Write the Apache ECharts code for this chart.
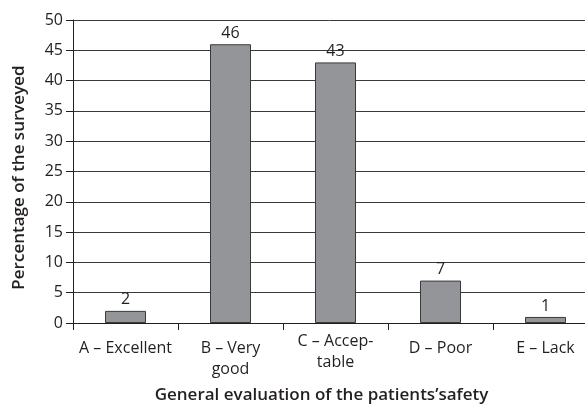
<!DOCTYPE html>
<html>
<head>
<meta charset="utf-8">
<script src="https://cdn.jsdelivr.net/npm/echarts@6/dist/echarts.min.js"></script>
<style>
  html, body { margin: 0; padding: 0; background: #fff; }
  #chart { width: 585px; height: 405px; }
</style>
</head>
<body>
<div id="chart"></div>
<script>
// categories and values
const categories = ['A – Excellent', 'B – Very\ngood', 'C – Accep-\ntable', 'D – Poor', 'E – Lack'];
const percents = [2, 46, 43, 7, 1];
const yTicks = { min: 0, max: 50, interval: 5 };

const font = '"Open Sans", "Noto Sans", sans-serif';
const chart = echarts.init(document.getElementById('chart'));

// the hyphenated label sits a little higher than the others in the original
const catData = categories.map(function (c, i) {
    return { value: c, textStyle: { padding: i === 2 ? [0, 0, 0, 0] : [7, 0, 0, 0] } };
});

chart.setOption({
    animation: false,
    textStyle: { fontFamily: font },
    grid: { left: 73, right: -13, top: 20, bottom: 82, outerBoundsMode: 'none', containLabel: false },
    xAxis: {
        type: 'category',
        data: catData,
        name: 'General evaluation of the patients’safety',
        nameLocation: 'middle',
        nameGap: 64,
        nameTextStyle: { fontSize: 17, fontWeight: 600, color: '#231f20', padding: [0, 28, 0, 0] },
        axisLine: { lineStyle: { color: '#231f20', width: 1 } },
        axisTick: { show: true, length: 7, lineStyle: { color: '#231f20' } },
        axisLabel: { fontSize: 16, color: '#231f20', lineHeight: 21, margin: 8, interval: 0 },
    },
    yAxis: {
        type: 'value',
        min: yTicks.min,
        max: yTicks.max,
        interval: yTicks.interval,
        name: 'Percentage of the surveyed',
        nameLocation: 'middle',
        nameGap: 45,
        nameTextStyle: { fontSize: 17, fontWeight: 600, color: '#231f20', padding: [0, 12, 0, 0] },
        axisLine: { show: true, lineStyle: { color: '#231f20', width: 1 } },
        axisTick: { show: true, length: 7, lineStyle: { color: '#231f20' } },
        axisLabel: { fontSize: 16, color: '#231f20', margin: 10 },
        splitLine: { lineStyle: { color: '#3a3a3a', width: 1 } },
    },
    series: [{
        type: 'bar',
        data: percents,
        barWidth: 41,
        itemStyle: { color: '#939598', borderColor: '#3a3a3a', borderWidth: 1 },
        label: { show: true, position: 'top', distance: 3, fontSize: 16, color: '#231f20' },
    }],
});
</script>
</body>
</html>
